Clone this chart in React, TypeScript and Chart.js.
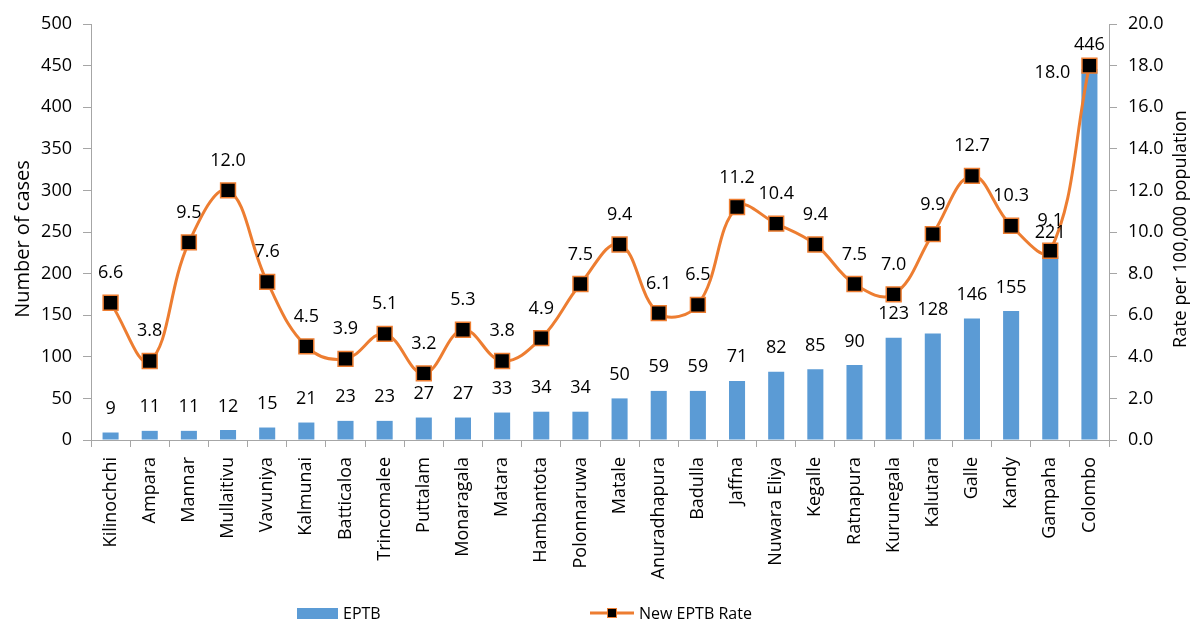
import React, { useEffect, useRef } from 'react';
import { Chart, registerables } from 'chart.js';

Chart.register(...registerables);

const districts = [
  'Kilinochchi', 'Ampara', 'Mannar', 'Mullaitivu', 'Vavuniya', 'Kalmunai', 'Batticaloa',
  'Trincomalee', 'Puttalam', 'Monaragala', 'Matara', 'Hambantota', 'Polonnaruwa', 'Matale',
  'Anuradhapura', 'Badulla', 'Jaffna', 'Nuwara Eliya', 'Kegalle', 'Ratnapura', 'Kurunegala',
  'Kalutara', 'Galle', 'Kandy', 'Gampaha', 'Colombo',
];
const eptbCases = [9, 11, 11, 12, 15, 21, 23, 23, 27, 27, 33, 34, 34, 50, 59, 59, 71, 82, 85, 90, 123, 128, 146, 155, 221, 446];
const eptbRate = [6.6, 3.8, 9.5, 12.0, 7.6, 4.5, 3.9, 5.1, 3.2, 5.3, 3.8, 4.9, 7.5, 9.4, 6.1, 6.5, 11.2, 10.4, 9.4, 7.5, 7.0, 9.9, 12.7, 10.3, 9.1, 18.0];

const leftTitle = 'Number of cases';
const rightTitle = 'Rate per 100,000 population';
const barLegend = 'EPTB';
const lineLegend = 'New EPTB Rate';

const BLUE = '#5B9BD5';
const ORANGE = '#ED7D31';
const AXIS = '#a6a6a6';
const FONT = '"Open Sans", sans-serif';

const overlayPlugin = {
  id: 'overlay',
  afterDatasetsDraw(chart: any) {
    const ctx = chart.ctx;
    ctx.save();
    ctx.font = `18px ${FONT}`;
    ctx.fillStyle = '#000';
    ctx.textAlign = 'center';
    ctx.textBaseline = 'alphabetic';
    const barMeta = chart.getDatasetMeta(1);
    barMeta.data.forEach((el: any, i: number) => {
      ctx.fillText(String(eptbCases[i]), el.x, el.y - 18.5);
    });
    const lineMeta = chart.getDatasetMeta(0);
    lineMeta.data.forEach((el: any, i: number) => {
      const txt = eptbRate[i].toFixed(1);
      if (i === eptbRate.length - 1) {
        ctx.fillText(txt, el.x - 37, el.y + 12);
      } else {
        ctx.fillText(txt, el.x, el.y - 24.5);
      }
    });
    ctx.restore();
  },
  afterDraw(chart: any) {
    const ctx = chart.ctx;
    ctx.save();
    // axis titles
    ctx.fillStyle = '#000';
    ctx.textAlign = 'center';
    ctx.textBaseline = 'alphabetic';
    ctx.save();
    ctx.font = `20px ${FONT}`;
    ctx.translate(29, 239);
    ctx.rotate(-Math.PI / 2);
    ctx.fillText(leftTitle, 0, 0);
    ctx.restore();
    ctx.save();
    ctx.font = `18px ${FONT}`;
    ctx.translate(1186, 229);
    ctx.rotate(-Math.PI / 2);
    ctx.fillText(rightTitle, 0, 0);
    ctx.restore();

    // legend
    ctx.fillStyle = BLUE;
    ctx.fillRect(297, 608, 41, 11);
    ctx.fillStyle = '#000';
    ctx.font = `16px ${FONT}`;
    ctx.textAlign = 'left';
    ctx.fillText(barLegend, 343, 619);
    ctx.strokeStyle = ORANGE;
    ctx.lineWidth = 3;
    ctx.beginPath();
    ctx.moveTo(590, 613);
    ctx.lineTo(634, 613);
    ctx.stroke();
    ctx.fillStyle = '#000';
    ctx.fillRect(607.5, 608.5, 9, 9);
    ctx.lineWidth = 1;
    ctx.strokeRect(607.5, 608.5, 9, 9);
    ctx.fillStyle = '#000';
    ctx.fillText(lineLegend, 639, 619);
    ctx.restore();
  },
};

export default function App() {
  const canvasRef = useRef<HTMLCanvasElement | null>(null);

  useEffect(() => {
    document.body.style.margin = '0';
    const canvas = canvasRef.current;
    if (!canvas) return;
    const tickFont = { family: FONT, size: 18 };
    const chart = new Chart(canvas, {
      type: 'bar',
      data: {
        labels: districts,
        datasets: [
          {
            type: 'line',
            label: lineLegend,
            data: eptbRate,
            yAxisID: 'y1',
            borderColor: ORANGE,
            borderWidth: 3,
            tension: 0.4,
            pointStyle: 'rect',
            pointRadius: 10.5,
            pointBackgroundColor: '#000',
            pointBorderColor: ORANGE,
            pointBorderWidth: 1.5,
            order: 0,
          } as any,
          {
            type: 'bar',
            label: barLegend,
            data: eptbCases,
            yAxisID: 'y',
            backgroundColor: BLUE,
            barPercentage: 0.41,
            categoryPercentage: 1,
            order: 1,
          },
        ],
      },
      options: {
        responsive: false,
        animation: false,
        devicePixelRatio: 1,
        layout: { padding: { top: 24, bottom: 41, left: 0, right: 0 } },
        plugins: {
          legend: { display: false },
          tooltip: { enabled: false },
        },
        scales: {
          x: {
            offset: true,
            grid: { display: true, drawOnChartArea: false, drawTicks: true, tickLength: 7, color: AXIS, offset: true },
            border: { display: true, color: AXIS, width: 1 },
            ticks: { minRotation: 90, maxRotation: 90, autoSkip: false, padding: 10, color: '#000', font: tickFont },
            afterFit: (s: any) => { s.height = 140; },
          },
          y: {
            position: 'left',
            min: 0,
            max: 500,
            ticks: { stepSize: 50, padding: 11, color: '#000', font: tickFont },
            grid: { drawOnChartArea: false, drawTicks: true, tickLength: 8, color: AXIS },
            border: { display: true, color: AXIS, width: 1 },
            afterFit: (s: any) => { s.width = 91; },
          },
          y1: {
            position: 'right',
            min: 0,
            max: 20,
            ticks: { stepSize: 2, padding: 11, color: '#000', font: tickFont, callback: (v: any) => Number(v).toFixed(1) },
            grid: { drawOnChartArea: false, drawTicks: true, tickLength: 8, color: AXIS },
            border: { display: true, color: AXIS, width: 1 },
            afterFit: (s: any) => { s.width = 85; },
          },
        },
      } as any,
      plugins: [overlayPlugin],
    });
    return () => chart.destroy();
  }, []);

  return (
    <div style={{ width: 1194, height: 621 }}>
      <canvas ref={canvasRef} width={1194} height={621} style={{ display: 'block' }} />
    </div>
  );
}
